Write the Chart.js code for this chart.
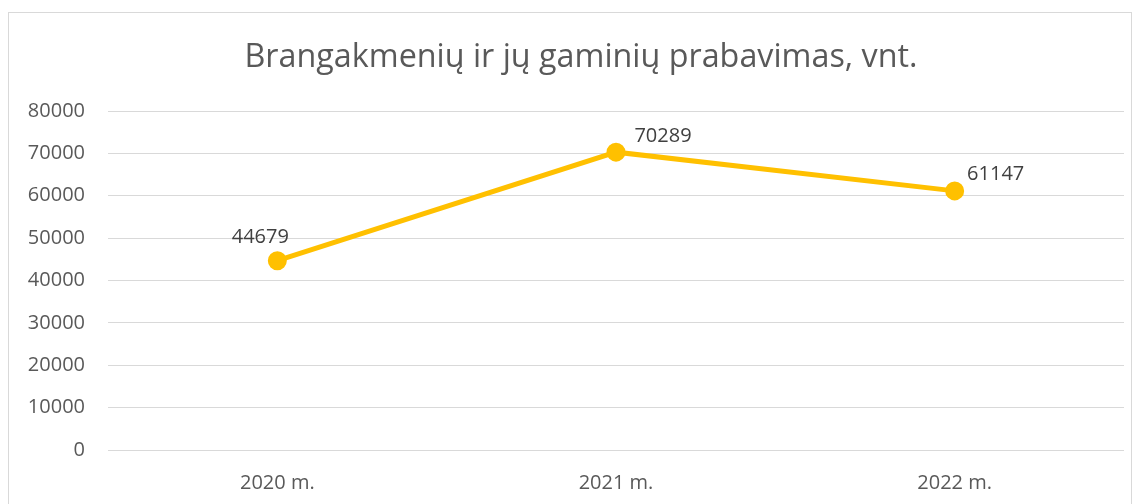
<!DOCTYPE html>
<html>
<head>
<meta charset="utf-8">
<script src="https://cdn.jsdelivr.net/npm/chart.js@4/dist/chart.umd.min.js"></script>
<style>
  html, body { margin: 0; padding: 0; background: #fff; overflow: hidden; }
  #wrap { position: relative; width: 1139px; height: 504px; }
  #frame { position: absolute; left: 8px; top: 12px; width: 1122px; height: 520px; border: 1px solid #d9d9d9; }
  canvas { position: absolute; left: 0; top: 0; }
</style>
</head>
<body>
<div id="wrap">
  <div id="frame"></div>
  <canvas id="chart" width="1139" height="504"></canvas>
</div>
<script>
const titleText = 'Brangakmenių ir jų gaminių prabavimas, vnt.';
const years = ['2020 m.', '2021 m.', '2022 m.'];
const units = [44679, 70289, 61147];
const yTicks = [0, 10000, 20000, 30000, 40000, 50000, 60000, 70000, 80000];

const FONT = '"Open Sans", "DejaVu Sans", sans-serif';
const gold = '#FFC000';

// where each value label sits relative to its point (px)
const labelShift = [[-17, -23], [47, -16], [41, -17]];

const titlePlugin = {
    id: 'titleText',
    afterDraw(chart) {
        const c = chart.ctx;
        c.save();
        c.font = '32.3px ' + FONT;
        c.fillStyle = '#595959';
        c.textAlign = 'center';
        c.textBaseline = 'middle';
        c.fillText(titleText, 581, 58);
        c.restore();
    }
};

const valueLabels = {
    id: 'valueLabels',
    afterDatasetsDraw(chart) {
        const c = chart.ctx;
        const meta = chart.getDatasetMeta(0);
        c.save();
        c.font = '20px ' + FONT;
        c.fillStyle = '#404040';
        c.textAlign = 'center';
        c.textBaseline = 'middle';
        meta.data.forEach((pt, i) => {
            const [dx, dy] = labelShift[i];
            c.fillText(String(units[i]), pt.x + dx, pt.y + dy);
        });
        c.restore();
    }
};

const ctx = document.getElementById('chart').getContext('2d');
new Chart(ctx, {
    type: 'line',
    data: {
        labels: years,
        datasets: [{
            data: units,
            borderColor: gold,
            backgroundColor: gold,
            borderWidth: 5,
            pointRadius: 7,
            pointHoverRadius: 7,
            pointBackgroundColor: gold,
            pointBorderColor: gold,
            fill: false,
            tension: 0,
        }]
    },
    options: {
        responsive: false,
        animation: false,
        layout: { padding: { top: 111, right: 15, bottom: 0, left: 0 } },
        plugins: {
            legend: { display: false },
            title: { display: false },
            tooltip: { enabled: false },
        },
        scales: {
            x: {
                offset: true,
                grid: { display: false, drawTicks: false },
                border: { display: false },
                ticks: { color: '#595959', font: { family: FONT, size: 20 }, padding: 21 },
                afterFit(scale) { scale.height = 54; },
            },
            y: {
                min: 0,
                max: 80000,
                afterBuildTicks(scale) { scale.ticks = yTicks.map(v => ({ value: v })); },
                grid: { color: '#d9d9d9', lineWidth: 1, drawTicks: false },
                border: { display: false },
                ticks: {
                    color: '#595959',
                    font: { family: FONT, size: 20 },
                    padding: 23,
                    callback: v => String(v),
                },
                afterFit(scale) { scale.width = 108; },
            }
        }
    },
    plugins: [titlePlugin, valueLabels]
});
</script>
</body>
</html>
